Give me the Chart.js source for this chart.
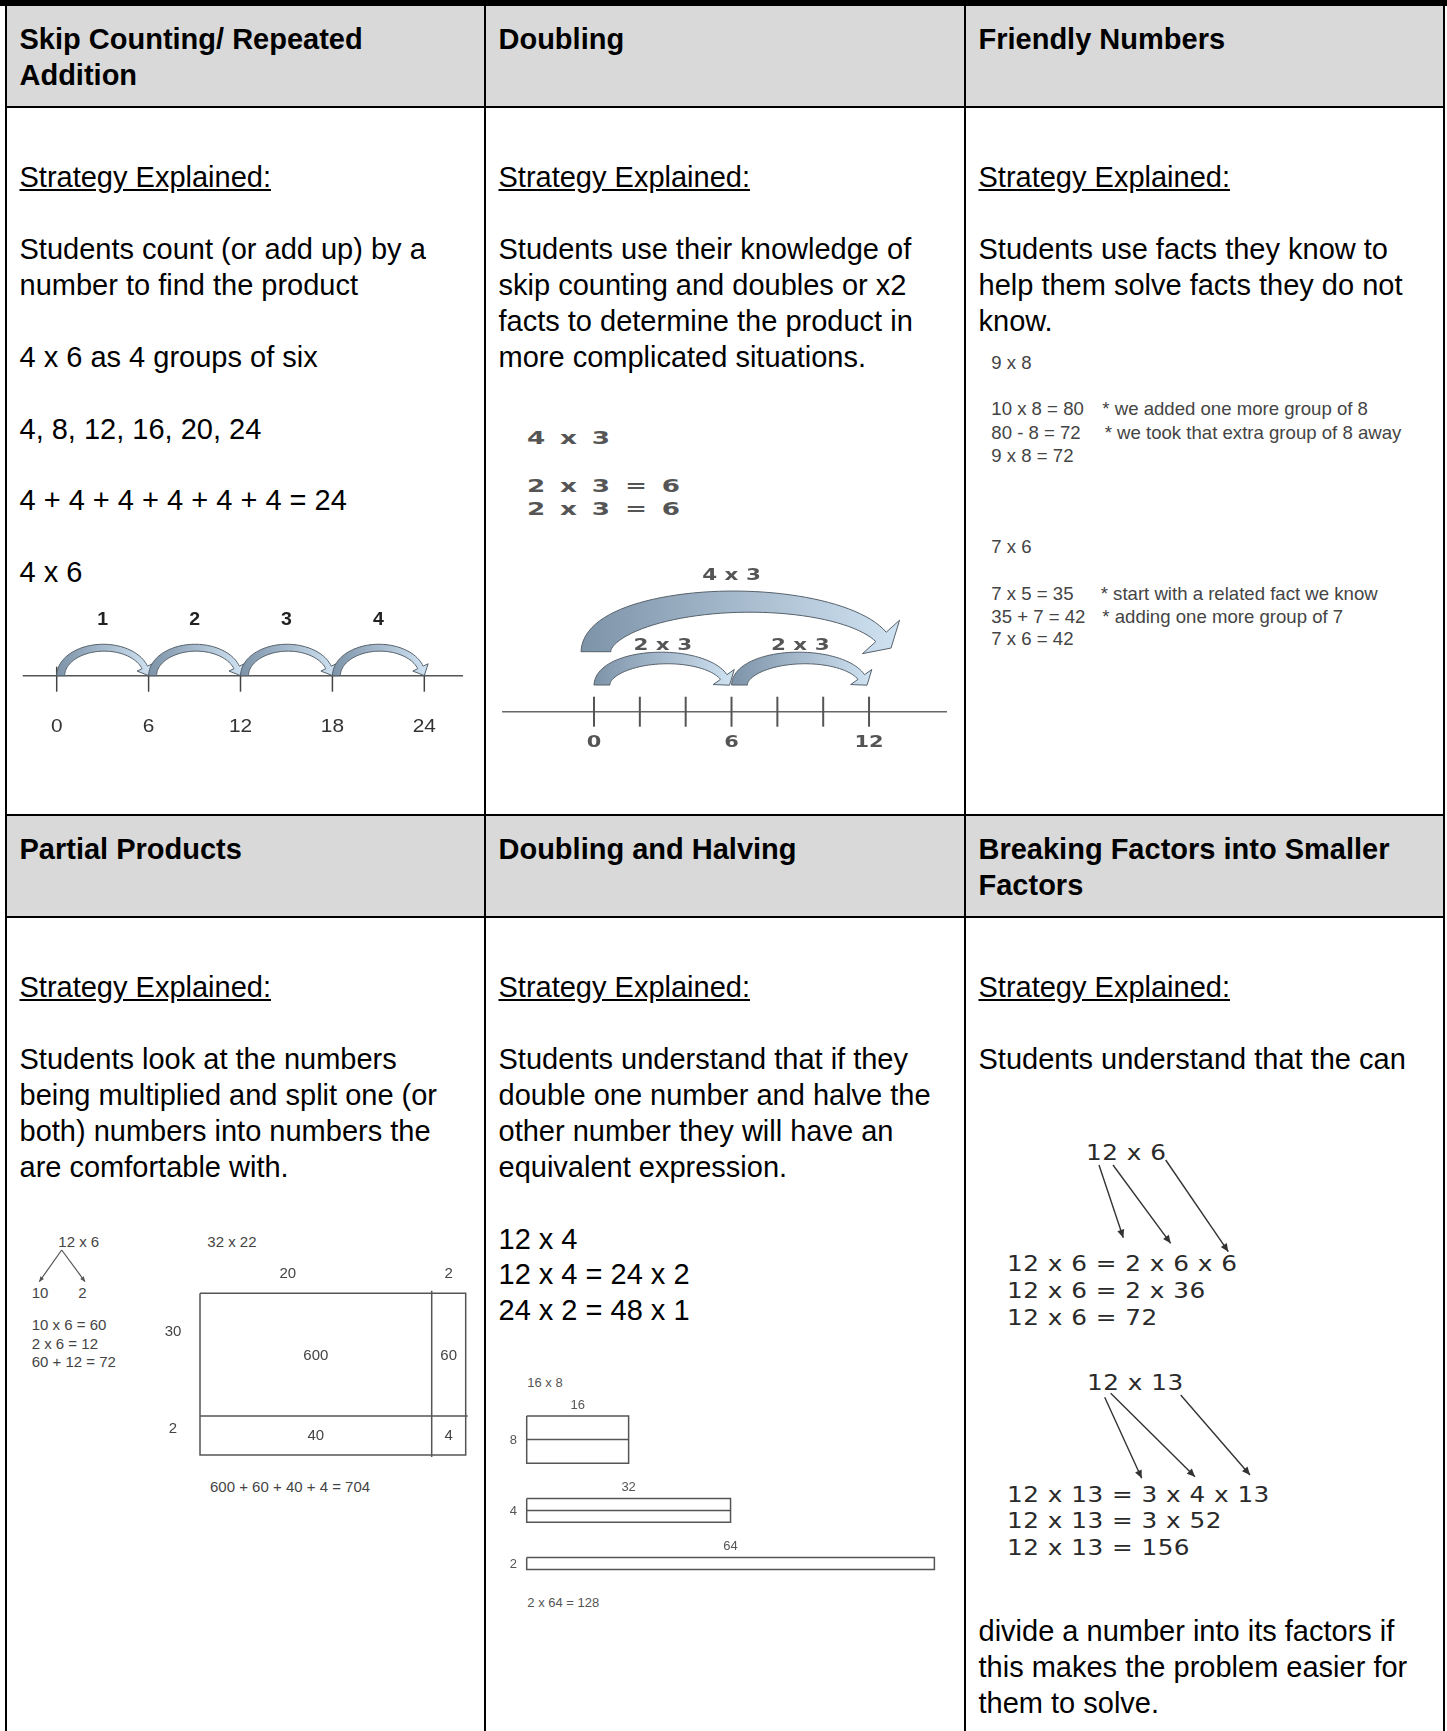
<!DOCTYPE html>
<html>
<head>
<meta charset="utf-8">
<title>Multiplication Strategies</title>
<script src="https://cdn.jsdelivr.net/npm/chart.js@4.4.1/dist/chart.umd.min.js"></script>
<style>
  html, body { margin: 0; padding: 0; background: #fff; }
  body { position: relative; width: 1447px; height: 1731px; overflow: hidden;
         font-family: "Liberation Sans", Arial, sans-serif; color: #000; }
  #topbar { position: absolute; left: 0; top: 0; width: 1447px; height: 6px; background: #000; }
  #grid { position: absolute; left: 5px; top: 6px; width: 1440px; height: 1800px; background: #000; }
  .cell { position: absolute; box-sizing: border-box; background: #fff; padding: 16.3px 8px 0 12.5px;
          font-size: 29px; line-height: 35.9px; white-space: nowrap; }
  .hd { background: #d9d9d9; font-weight: bold; padding-top: 16px; }
  .c1 { left: 2px; width: 477px; }
  .c2 { left: 481px; width: 478px; }
  .c3 { left: 961px; width: 477px; }
  .r1 { top: 0; height: 100px; }
  .r2 { top: 102px; height: 706px; }
  .r3 { top: 810px; height: 100px; }
  .r4 { top: 912px; height: 900px; }
  .n { position: absolute; white-space: nowrap; }
  .n span { position: absolute; top: 0; }
  .fn { left: 991.3px; font-size: 18.6px; line-height: 18.6px; color: #444; }
  .dn { left: 527.3px; font-family: "DejaVu Sans", sans-serif; font-weight: bold; font-size: 17.5px; line-height: 17.5px;
        letter-spacing: 1.9px; color: #555; transform: scaleX(1.5); transform-origin: 0 0; }
  .pn { font-size: 15px; line-height: 15px; color: #444; }
  .hn { font-size: 13px; line-height: 13px; color: #555; left: 527.3px; }
  .bn { font-family: "DejaVu Sans", sans-serif; font-size: 20.6px; line-height: 20.6px;
        letter-spacing: 0.4px; color: #2a2a2a; transform: scaleX(1.2); transform-origin: 0 0; }
  canvas { position: absolute; }
</style>
</head>
<body>
<div id="topbar"></div>
<div id="grid">
  <div class="cell hd c1 r1">Skip Counting/ Repeated<br>Addition</div>
  <div class="cell hd c2 r1">Doubling</div>
  <div class="cell hd c3 r1">Friendly Numbers</div>

  <div class="cell c1 r2"><br><u>Strategy Explained:</u><br><br>Students count (or add up) by a<br>number to find the product<br><br>4 x 6 as 4 groups of six<br><br>4, 8, 12, 16, 20, 24<br><br>4 + 4 + 4 + 4 + 4 + 4 = 24<br><br>4 x 6</div>
  <div class="cell c2 r2"><br><u>Strategy Explained:</u><br><br>Students use their knowledge of<br>skip counting and doubles or x2<br>facts to determine the product in<br>more complicated situations.</div>
  <div class="cell c3 r2"><br><u>Strategy Explained:</u><br><br>Students use facts they know to<br>help them solve facts they do not<br>know.</div>

  <div class="cell hd c1 r3">Partial Products</div>
  <div class="cell hd c2 r3">Doubling and Halving</div>
  <div class="cell hd c3 r3">Breaking Factors into Smaller<br>Factors</div>

  <div class="cell c1 r4"><br><u>Strategy Explained:</u><br><br>Students look at the numbers<br>being multiplied and split one (or<br>both) numbers into numbers the<br>are comfortable with.</div>
  <div class="cell c2 r4"><br><u>Strategy Explained:</u><br><br>Students understand that if they<br>double one number and halve the<br>other number they will have an<br>equivalent expression.<br><br>12 x 4<br>12 x 4 = 24 x 2<br>24 x 2 = 48 x 1</div>
  <div class="cell c3 r4"><br><u>Strategy Explained:</u><br><br>Students understand that the can<div style="height:536.4px"></div>divide a number into its factors if<br>this makes the problem easier for<br>them to solve.</div>
</div>

<!-- Doubling worked example -->
<div class="n dn" style="top:430.2px">4 x 3</div>
<div class="n dn" style="top:477.9px">2 x 3 = 6</div>
<div class="n dn" style="top:501.2px">2 x 3 = 6</div>

<!-- Friendly numbers worked examples -->
<div class="n fn" style="top:354.3px">9 x 8</div>
<div class="n fn" style="top:400.3px">10 x 8 = 80<span style="left:111px">* we added one more group of 8</span></div>
<div class="n fn" style="top:423.6px">80 - 8 = 72<span style="left:113.4px">* we took that extra group of 8 away</span></div>
<div class="n fn" style="top:447px">9 x 8 = 72</div>
<div class="n fn" style="top:538.3px">7 x 6</div>
<div class="n fn" style="top:585px">7 x 5 = 35<span style="left:109.4px">* start with a related fact we know</span></div>
<div class="n fn" style="top:607.6px">35 + 7 = 42<span style="left:111px">* adding one more group of 7</span></div>
<div class="n fn" style="top:630.3px">7 x 6 = 42</div>

<!-- Partial products worked examples -->
<div class="n pn" style="left:58.3px;top:1234px">12 x 6</div>
<div class="n pn" style="left:31.7px;top:1285px">10</div>
<div class="n pn" style="left:78.3px;top:1285px">2</div>
<div class="n pn" style="left:31.7px;top:1317.3px">10 x 6 = 60</div>
<div class="n pn" style="left:31.7px;top:1335.6px">2 x 6 = 12</div>
<div class="n pn" style="left:31.7px;top:1354px">60 + 12 = 72</div>
<div class="n pn" style="left:207.3px;top:1234px">32 x 22</div>
<div class="n pn" style="left:210px;top:1479.3px">600 + 60 + 40 + 4 = 704</div>

<!-- Doubling and halving -->
<div class="n hn" style="top:1375.7px">16 x 8</div>
<div class="n hn" style="top:1596.3px">2 x 64 = 128</div>

<!-- Breaking factors -->
<div class="n bn" style="left:1085.7px;top:1142.6px">12 x 6</div>
<div class="n bn" style="left:1007.3px;top:1254.3px">12 x 6 = 2 x 6 x 6</div>
<div class="n bn" style="left:1007.3px;top:1280.9px">12 x 6 = 2 x 36</div>
<div class="n bn" style="left:1007.3px;top:1307.6px">12 x 6 = 72</div>
<div class="n bn" style="left:1087.3px;top:1372.6px">12 x 13</div>
<div class="n bn" style="left:1007.3px;top:1485.3px">12 x 13 = 3 x 4 x 13</div>
<div class="n bn" style="left:1007.3px;top:1510.9px">12 x 13 = 3 x 52</div>
<div class="n bn" style="left:1007.3px;top:1537.6px">12 x 13 = 156</div>

<canvas id="skipChart" width="477" height="150" style="left:7px;top:601px"></canvas>
<canvas id="doubleChart" width="478" height="210" style="left:486px;top:550px"></canvas>
<canvas id="areaChart" width="330" height="230" style="left:150px;top:1250px"></canvas>
<canvas id="halveChart" width="478" height="215" style="left:486px;top:1380px"></canvas>
<canvas id="pointerChart" width="1447" height="1731" style="left:0;top:0"></canvas>

<script>
// ---- values ----
const skipTicks = [0, 6, 12, 18, 24];
const skipJumpLabels = ['1', '2', '3', '4'];
const doubleTicks = [0, 2, 4, 6, 8, 10, 12];
const doubleTickLabels = ['0', '', '', '6', '', '', '12'];
const doubleSmallJumps = [[0, 6], [6, 12]];
const doubleSmallLabel = '2 x 3';
const doubleBigJump = [0, 12];
const doubleBigLabel = '4 x 3';
const areaCols = [20, 2];
const areaRows = [30, 2];
const halvWidths = [16, 32, 64];
const halvHeights = [8, 4, 2];

// ---- layout and styles ----
Chart.defaults.font.family = '"Liberation Sans", Arial, sans-serif';
const ARROW_COLORS = { dark: '#7d93a8', light: '#cde0f0', edge: '#56616b', edgeWidth: 1 };
const JUMP_SKIP = { height: 28, w0: 8, w1: 6, headW: 17, headLen: 9, endAngle: 0.3, startShift: 4, endShift: 0, lift: 0, labelRise: 50.7 };
const JUMP_SMALL = { height: 27, w0: 16, w1: 8, headW: 26, headLen: 10, endAngle: 0.3, startShift: 8, endShift: -2, lift: 26.7, labelRise: 61.7 };
const JUMP_BIG = { height: 50, w0: 30, w1: 14, headW: 50, headLen: 15, endAngle: 0.3, startShift: 2, endShift: 22, lift: 60, labelRise: 131.7 };
const AREA = { colW: [231.7, 34], rowH: [122.7, 38.9], x0: 50, y0: 43.3, colLabelShift: [-28, 0], rowLabelShift: [-18.7, -2.7] };
const HALV = { kx: 6.37, ky: 5.9, x0: 40.7, y0: 36, gap: 6 };
// pointer arrows in page pixels: [x0, y0, x1, y1]
const pointerLayout = [
  [61.7, 1250, 39.3, 1281.7], [61.7, 1250, 85, 1281.7],
  [1099, 1165, 1123.3, 1237.7], [1113, 1165, 1170.7, 1243.3], [1165.7, 1160, 1228.3, 1251.7],
  [1104.7, 1397.3, 1141.7, 1478.3], [1110.7, 1393.3, 1195, 1476.7], [1180.7, 1395, 1250, 1475]
];

function drawLabel(ctx, text, x, y, font, color, stretch, spacing) {
  ctx.save();
  ctx.translate(x, y);
  ctx.scale(stretch || 1, 1);
  ctx.font = font;
  ctx.fillStyle = color;
  ctx.textAlign = 'center';
  ctx.textBaseline = 'alphabetic';
  if (spacing) ctx.letterSpacing = spacing + 'px';
  ctx.fillText(text, 0, 0);
  ctx.restore();
}

// thick curved "jump" arrow along half an ellipse
function drawJump(ctx, xa, xb, yb, s) {
  const te = s.endAngle, h = s.height, L = s.headLen;
  const dirAt = (th, r) => {
    const tx = r * Math.sin(th), ty = h * Math.cos(th), l = Math.hypot(tx, ty);
    return [tx / l, ty / l];
  };
  let rx = (xb - xa) / 2, cx;
  for (let k = 0; k < 8; k++) {
    cx = xa + rx;
    const d = dirAt(te, rx);
    const tipX = cx + rx * Math.cos(te) + d[0] * L;
    rx += (xb - tipX) / 2;
  }
  cx = xa + rx;
  const N = 48, outer = [], inner = [];
  for (let i = 0; i <= N; i++) {
    const t = i / N, th = Math.PI + (te - Math.PI) * t;
    const px = cx + rx * Math.cos(th), py = yb - h * Math.sin(th);
    const d = dirAt(th, rx);
    const w = (s.w0 + (s.w1 - s.w0) * t) / 2;
    outer.push([px + d[1] * w, py - d[0] * w]);
    inner.push([px - d[1] * w, py + d[0] * w]);
  }
  const pe = [cx + rx * Math.cos(te), yb - h * Math.sin(te)];
  const de = dirAt(te, rx), hw = s.headW / 2;
  ctx.beginPath();
  ctx.moveTo(inner[0][0], inner[0][1]);
  outer.forEach(p => ctx.lineTo(p[0], p[1]));
  ctx.lineTo(pe[0] + de[1] * hw, pe[1] - de[0] * hw);
  ctx.lineTo(pe[0] + de[0] * L, pe[1] + de[1] * L);
  ctx.lineTo(pe[0] - de[1] * hw, pe[1] + de[0] * hw);
  for (let i = N; i >= 0; i--) ctx.lineTo(inner[i][0], inner[i][1]);
  ctx.closePath();
  const g = ctx.createLinearGradient(xa - s.w0 / 2, 0, xb, 0);
  g.addColorStop(0, ARROW_COLORS.dark);
  g.addColorStop(1, ARROW_COLORS.light);
  ctx.fillStyle = g;
  ctx.fill();
  ctx.strokeStyle = ARROW_COLORS.edge;
  ctx.lineWidth = ARROW_COLORS.edgeWidth;
  ctx.stroke();
}

const numberLinePlugin = {
  id: 'numberLine',
  afterDatasetsDraw(chart, args, o) {
    const ctx = chart.ctx, xs = chart.scales.x, ys = chart.scales.y;
    const y0 = ys.getPixelForValue(0);
    ctx.save();
    ctx.strokeStyle = o.tickColor;
    ctx.lineWidth = o.tickWidth;
    o.ticks.forEach((t, i) => {
      const x = xs.getPixelForValue(t);
      ctx.beginPath();
      ctx.moveTo(x, y0 - o.tickUp);
      ctx.lineTo(x, y0 + o.tickDown);
      ctx.stroke();
      if (o.tickLabels[i]) drawLabel(ctx, o.tickLabels[i], x, y0 + o.labelDrop, o.labelFont, o.labelColor, o.labelStretch);
    });
    o.jumps.forEach(j => {
      const s = j.style;
      const xa = xs.getPixelForValue(j.from) + s.startShift;
      const xb = xs.getPixelForValue(j.to) + s.endShift;
      drawJump(ctx, xa, xb, y0 - s.lift, s);
      drawLabel(ctx, j.label, xs.getPixelForValue((j.from + j.to) / 2), y0 - s.labelRise,
        o.jumpFont, o.jumpColor, o.jumpStretch);
    });
    ctx.restore();
  }
};

function numberLine(id, cfg) {
  const el = document.getElementById(id);
  const H = el.height;
  return new Chart(el, {
    type: 'scatter',
    data: {
      datasets: [{
        data: [{ x: cfg.ticks[0] - cfg.pad[0], y: 0 }, { x: cfg.ticks[cfg.ticks.length - 1] + cfg.pad[1], y: 0 }],
        showLine: true, borderColor: cfg.lineColor, borderWidth: 1.5, pointRadius: 0
      }]
    },
    options: {
      responsive: false, animation: false, events: [], devicePixelRatio: 1,
      layout: { padding: 0 },
      plugins: {
        legend: { display: false }, tooltip: { enabled: false },
        numberLine: cfg.plugin
      },
      scales: {
        x: { type: 'linear', display: false, min: cfg.min, max: cfg.max },
        y: { type: 'linear', display: false, min: cfg.lineY - H, max: cfg.lineY }
      }
    },
    plugins: [numberLinePlugin]
  });
}

// skip counting number line: 15.317 px per unit, 0 at x=49.7
numberLine('skipChart', {
  ticks: skipTicks, pad: [2.22, 2.53], min: -3.245, max: 27.897, lineY: 74.7, lineColor: '#555',
  plugin: {
    ticks: skipTicks, tickLabels: skipTicks.map(String),
    tickUp: 9, tickDown: 16, tickColor: '#444', tickWidth: 1.5,
    labelDrop: 56, labelFont: '18.6px "Liberation Sans"', labelColor: '#333', labelStretch: 1.12,
    jumpFont: 'bold 18.6px "Liberation Sans"', jumpColor: '#222', jumpStretch: 1.05,
    jumps: skipJumpLabels.map((lab, i) => ({ from: skipTicks[i], to: skipTicks[i + 1], label: lab, style: JUMP_SKIP }))
  }
});

// doubling number line: 22.92 px per unit, 0 at x=108
numberLine('doubleChart', {
  ticks: doubleTicks, pad: [4.01, 3.4], min: -4.712, max: 16.143, lineY: 161.7, lineColor: '#666',
  plugin: {
    ticks: doubleTicks, tickLabels: doubleTickLabels,
    tickUp: 15, tickDown: 15, tickColor: '#555', tickWidth: 2,
    labelDrop: 35, labelFont: 'bold 15.5px "DejaVu Sans"', labelColor: '#555', labelStretch: 1.35,
    jumpFont: 'bold 16.5px "DejaVu Sans"', jumpColor: '#555', jumpStretch: 1.3,
    jumps: [{ from: doubleBigJump[0], to: doubleBigJump[1], label: doubleBigLabel, style: JUMP_BIG }]
      .concat(doubleSmallJumps.map(j => ({ from: j[0], to: j[1], label: doubleSmallLabel, style: JUMP_SMALL })))
  }
});

function seg(points, color, width) {
  return { data: points, showLine: true, borderColor: color, borderWidth: width, pointRadius: 0, tension: 0 };
}
function rectPts(x0, y0, x1, y1) {
  return [{ x: x0, y: y0 }, { x: x1, y: y0 }, { x: x1, y: y1 }, { x: x0, y: y1 }, { x: x0, y: y0 }];
}
const baseOpts = (xmin, xmax, ymin, ymax) => ({
  responsive: false, animation: false, events: [], devicePixelRatio: 1,
  layout: { padding: 0 },
  plugins: { legend: { display: false }, tooltip: { enabled: false } },
  scales: {
    x: { type: 'linear', display: false, min: xmin, max: xmax },
    y: { type: 'linear', display: false, min: ymin, max: ymax, reverse: true }
  }
});

// partial products area model
(function () {
  const el = document.getElementById('areaChart');
  const xe = [0], ye = [0];
  AREA.colW.forEach(w => xe.push(xe[xe.length - 1] + w));
  AREA.rowH.forEach(h => ye.push(ye[ye.length - 1] + h));
  const W = xe[xe.length - 1], H = ye[ye.length - 1];
  const col = '#555';
  const areaLabels = {
    id: 'areaLabels',
    afterDatasetsDraw(chart) {
      const ctx = chart.ctx, xs = chart.scales.x, ys = chart.scales.y;
      const f = '15px "Liberation Sans"', c = '#444';
      areaCols.forEach((v, i) => {
        drawLabel(ctx, String(v), xs.getPixelForValue((xe[i] + xe[i + 1]) / 2 + AREA.colLabelShift[i]),
          ys.getPixelForValue(-15.6), f, c);
      });
      areaRows.forEach((v, r) => {
        drawLabel(ctx, String(v), xs.getPixelForValue(-27),
          ys.getPixelForValue((ye[r] + ye[r + 1]) / 2 + AREA.rowLabelShift[r]), f, c);
        areaCols.forEach((u, i) => {
          drawLabel(ctx, String(u * v), xs.getPixelForValue((xe[i] + xe[i + 1]) / 2),
            ys.getPixelForValue((ye[r] + ye[r + 1]) / 2 + 5), f, c);
        });
      });
    }
  };
  new Chart(el, {
    type: 'scatter',
    data: {
      datasets: [
        seg(rectPts(0, 0, W, H), col, 1.5),
        seg([{ x: xe[1], y: -2.5 }, { x: xe[1], y: H + 2 }], col, 1.5),
        seg([{ x: 0, y: ye[1] }, { x: W + 2, y: ye[1] }], col, 1.5)
      ]
    },
    options: baseOpts(-AREA.x0, el.width - AREA.x0, -AREA.y0, el.height - AREA.y0),
    plugins: [areaLabels]
  });
})();

// doubling and halving rectangles
(function () {
  const el = document.getElementById('halveChart');
  const tops = [];
  let y = 0;
  halvHeights.forEach(h => { tops.push(y); y += h + HALV.gap; });
  const col = '#555';
  const ds = [];
  halvWidths.forEach((w, i) => {
    ds.push(seg(rectPts(0, tops[i], w, tops[i] + halvHeights[i]), col, 1.5));
    if (i < halvWidths.length - 1) {
      const m = tops[i] + halvHeights[i] / 2;
      ds.push(seg([{ x: 0, y: m }, { x: w, y: m }], col, 1.5));
    }
  });
  const halvLabels = {
    id: 'halvLabels',
    afterDatasetsDraw(chart) {
      const ctx = chart.ctx, xs = chart.scales.x, ys = chart.scales.y;
      const f = '13px "Liberation Sans"', c = '#555';
      halvWidths.forEach((w, i) => {
        drawLabel(ctx, String(w), xs.getPixelForValue(w / 2), ys.getPixelForValue(tops[i]) - 7.5, f, c);
        drawLabel(ctx, String(halvHeights[i]), xs.getPixelForValue(0) - 13.4,
          ys.getPixelForValue(tops[i] + halvHeights[i] / 2) + 4.5, f, c);
      });
    }
  };
  const xmin = -HALV.x0 / HALV.kx, ymin = -HALV.y0 / HALV.ky;
  new Chart(el, {
    type: 'scatter',
    data: { datasets: ds },
    options: baseOpts(xmin, xmin + el.width / HALV.kx, ymin, ymin + el.height / HALV.ky),
    plugins: [halvLabels]
  });
})();

// thin pointer arrows (tree split and factor breakdown)
(function () {
  const el = document.getElementById('pointerChart');
  const heads = {
    id: 'heads',
    afterDatasetsDraw(chart) {
      const ctx = chart.ctx;
      chart.data.datasets.forEach((d, i) => {
        const pts = chart.getDatasetMeta(i).data;
        const a = pts[0], b = pts[pts.length - 1];
        const dx = b.x - a.x, dy = b.y - a.y, l = Math.hypot(dx, dy);
        const ux = dx / l, uy = dy / l, L = d.headLen, W = d.headLen * 0.45;
        ctx.save();
        ctx.fillStyle = d.borderColor;
        ctx.beginPath();
        ctx.moveTo(b.x, b.y);
        ctx.lineTo(b.x - ux * L - uy * W, b.y - uy * L + ux * W);
        ctx.lineTo(b.x - ux * L + uy * W, b.y - uy * L - ux * W);
        ctx.closePath();
        ctx.fill();
        ctx.restore();
      });
    }
  };
  const ds = pointerLayout.map((p, i) => Object.assign(
    seg([{ x: p[0], y: p[1] }, { x: p[2], y: p[3] }], i < 2 ? '#555' : '#333', i < 2 ? 1.2 : 1.4),
    { headLen: i < 2 ? 5 : 8 }));
  new Chart(el, {
    type: 'scatter',
    data: { datasets: ds },
    options: baseOpts(0, el.width, 0, el.height),
    plugins: [heads]
  });
})();
</script>
</body>
</html>
